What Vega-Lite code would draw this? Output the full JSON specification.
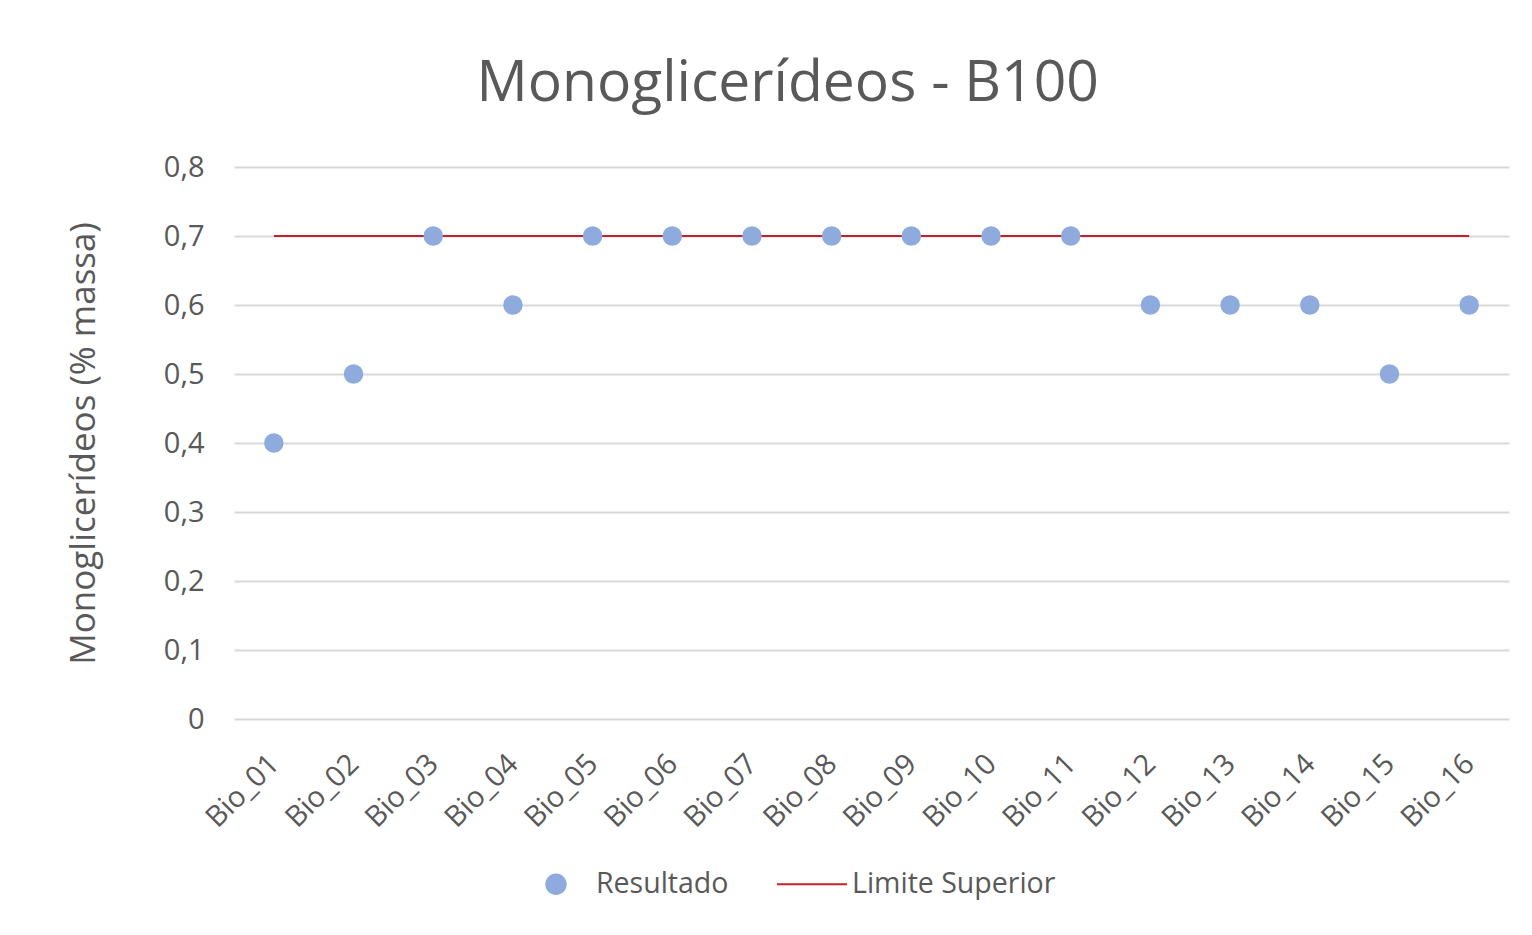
{
  "$schema": "https://vega.github.io/schema/vega-lite/v6.json",
  "autosize": {"type": "none"},
  "padding": {"left": 234, "top": 167, "right": 23, "bottom": 216},
  "width": 1275,
  "height": 552,
  "background": "white",
  "config": {"view": {"stroke": null}},
  "title": {
    "text": "Monoglicerídeos - B100",
    "fontSize": 57,
    "font": "Open Sans",
    "fontWeight": "normal",
    "color": "#595959",
    "anchor": "middle",
    "frame": "bounds",
    "offset": 40
  },
  "data": {
    "values": [
      {"amostra": "Bio_01", "resultado": 0.4, "limite": 0.7},
      {"amostra": "Bio_02", "resultado": 0.5, "limite": 0.7},
      {"amostra": "Bio_03", "resultado": 0.7, "limite": 0.7},
      {"amostra": "Bio_04", "resultado": 0.6, "limite": 0.7},
      {"amostra": "Bio_05", "resultado": 0.7, "limite": 0.7},
      {"amostra": "Bio_06", "resultado": 0.7, "limite": 0.7},
      {"amostra": "Bio_07", "resultado": 0.7, "limite": 0.7},
      {"amostra": "Bio_08", "resultado": 0.7, "limite": 0.7},
      {"amostra": "Bio_09", "resultado": 0.7, "limite": 0.7},
      {"amostra": "Bio_10", "resultado": 0.7, "limite": 0.7},
      {"amostra": "Bio_11", "resultado": 0.7, "limite": 0.7},
      {"amostra": "Bio_12", "resultado": 0.6, "limite": 0.7},
      {"amostra": "Bio_13", "resultado": 0.6, "limite": 0.7},
      {"amostra": "Bio_14", "resultado": 0.6, "limite": 0.7},
      {"amostra": "Bio_15", "resultado": 0.5, "limite": 0.7},
      {"amostra": "Bio_16", "resultado": 0.6, "limite": 0.7}
    ]
  },
  "encoding": {
    "x": {
      "field": "amostra",
      "type": "nominal",
      "sort": null,
      "axis": {
        "title": null,
        "labelAngle": -45,
        "labelAlign": "right",
        "labelBaseline": "middle",
        "labelPadding": 40,
        "domain": false,
        "ticks": false,
        "grid": false,
        "labelFontSize": 29,
        "labelFont": "Open Sans",
        "labelColor": "#595959"
      }
    }
  },
  "layer": [
    {
      "mark": {"type": "line", "strokeWidth": 2},
      "encoding": {
        "y": {
          "field": "limite",
          "type": "quantitative",
          "scale": {"domain": [0, 0.8], "nice": false},
          "axis": {
            "title": "Monoglicerídeos (% massa)",
            "values": [0, 0.1, 0.2, 0.3, 0.4, 0.5, 0.6, 0.7, 0.8],
            "labelExpr": "datum.value == 0 ? '0' : replace(format(datum.value, '.1f'), '.', ',')",
            "domain": false,
            "ticks": false,
            "grid": true,
            "gridColor": "#d9d9d9",
            "gridWidth": 2,
            "labelPadding": 30,
            "labelFontSize": 29,
            "labelFont": "Open Sans",
            "labelColor": "#595959",
            "titleFont": "Open Sans",
            "titleFontSize": 35,
            "titleFontWeight": "normal",
            "titleColor": "#595959",
            "titlePadding": 62
          }
        },
        "color": {
          "datum": "Limite Superior",
          "type": "nominal",
          "scale": {"domain": ["Resultado", "Limite Superior"], "range": ["#8FAADC", "#C8202A"]},
          "legend": {
            "title": null,
            "orient": "none",
            "legendX": 286,
            "legendY": 681,
            "direction": "horizontal",
            "labelFont": "Open Sans",
            "labelFontSize": 28.5,
            "labelColor": "#595959",
            "labelLimit": 500,
            "symbolSize": 4900,
            "columnPadding": 44,
            "encode": {
              "symbols": {
                "update": {
                  "shape": {"signal": "datum.value == 'Resultado' ? 'circle' : 'stroke'"},
                  "size": {"signal": "datum.value == 'Resultado' ? 380 : 4900"},
                  "strokeWidth": {"value": 2},
                  "stroke": {"signal": "datum.value == 'Resultado' ? 'transparent' : '#C8202A'"},
                  "fill": {"signal": "datum.value == 'Resultado' ? '#8FAADC' : 'transparent'"},
                  "opacity": {"value": 1}
                }
              }
            }
          }
        }
      }
    },
    {
      "mark": {"type": "point", "filled": true, "opacity": 1, "size": 380},
      "encoding": {
        "y": {"field": "resultado", "type": "quantitative"},
        "color": {"datum": "Resultado", "type": "nominal"}
      }
    }
  ]
}
